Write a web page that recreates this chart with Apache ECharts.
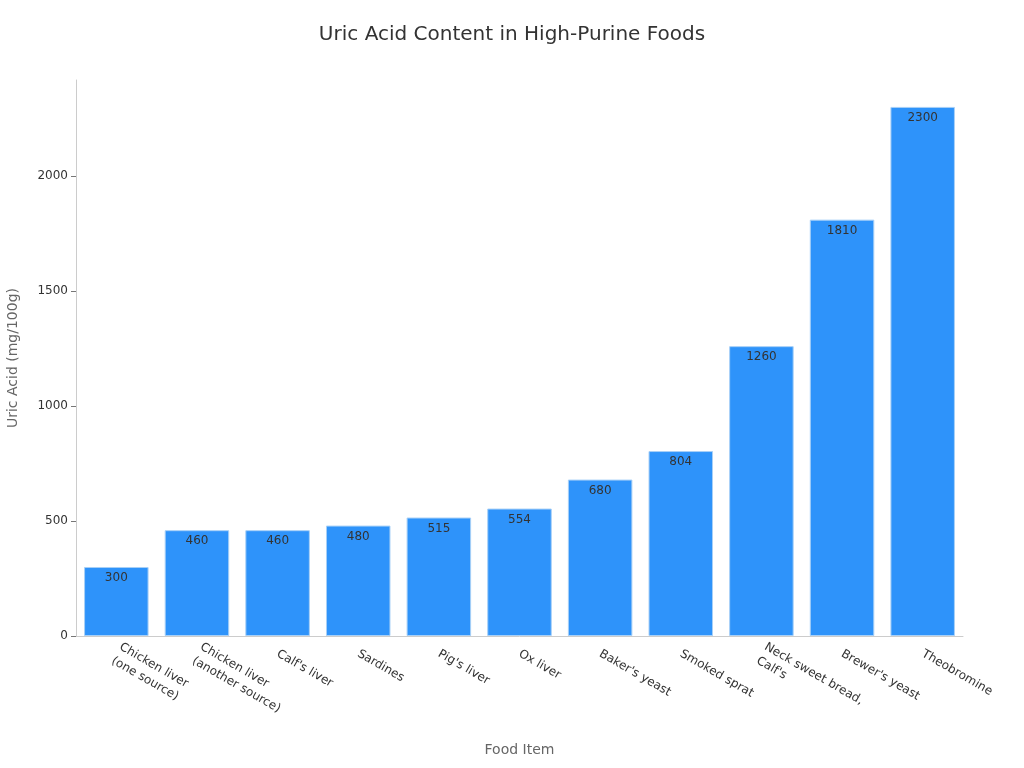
<!DOCTYPE html>
<html>
<head>
<meta charset="utf-8">
<script src="https://cdn.jsdelivr.net/npm/echarts@6/dist/echarts.min.js"></script>
<style>
  html, body { margin: 0; padding: 0; background: #fff; }
  #main { width: 1024px; height: 768px; }
</style>
</head>
<body>
<div id="main"></div>
<script>
var foods = ['Chicken liver\n(one source)', 'Chicken liver\n(another source)', "Calf's liver", 'Sardines', "Pig's liver", 'Ox liver', "Baker's yeast", 'Smoked sprat', 'Neck sweet bread,\nCalf\'s', "Brewer's yeast", 'Theobromine'];
var uricAcid = [300, 460, 460, 480, 515, 554, 680, 804, 1260, 1810, 2300];
var yTicks = [0, 500, 1000, 1500, 2000];

var chart = echarts.init(document.getElementById('main'));
var option = {
  textStyle: { fontFamily: 'DejaVu Sans' },
  title: {
    text: 'Uric Acid Content in High-Purine Foods',
    left: 'center',
    top: 20,
    textStyle: { fontSize: 20, fontWeight: 'normal', color: '#333' }
  },
  grid: { left: 76, right: 61, top: 80, bottom: 132, outerBoundsMode: 'none', containLabel: false },
  xAxis: {
    type: 'category',
    data: foods,
    name: 'Food Item',
    nameLocation: 'middle',
    nameGap: 107,
    nameTextStyle: { fontSize: 14, color: '#666' },
    axisLine: { lineStyle: { color: '#ccc' } },
    axisTick: { alignWithLabel: true, lineStyle: { color: '#777' } },
    axisLabel: { rotate: -30, fontSize: 12, lineHeight: 16, color: '#333', interval: 0, margin: 17 }
  },
  yAxis: {
    type: 'value',
    min: 0,
    max: 2417,
    name: 'Uric Acid (mg/100g)',
    nameLocation: 'middle',
    nameGap: 56,
    nameTextStyle: { fontSize: 14, color: '#666' },
    axisLine: { show: true, lineStyle: { color: '#ccc' } },
    axisTick: { show: true, customValues: yTicks, lineStyle: { color: '#777' } },
    axisLabel: { fontSize: 12, color: '#333', customValues: yTicks, formatter: function (v) { return String(v); } },
    splitLine: { show: false }
  },
  series: [
    {
      type: 'bar',
      data: uricAcid,
      barCategoryGap: '20%',
      itemStyle: { color: '#2e93fa', borderColor: '#a8d0f7', borderWidth: 1 },
      label: { show: true, position: 'insideTop', fontSize: 12, color: '#333' }
    }
  ]
};
chart.setOption(option);
</script>
</body>
</html>
